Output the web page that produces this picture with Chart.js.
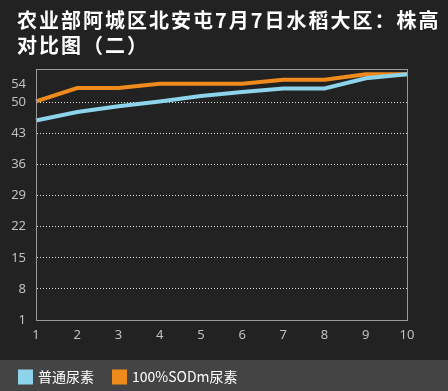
<!DOCTYPE html>
<html>
<head>
<meta charset="utf-8">
<script src="https://cdn.jsdelivr.net/npm/chart.js@4/dist/chart.umd.min.js"></script>
<style>
  html, body { margin: 0; padding: 0; background: #222; }
  #wrap { position: relative; width: 448px; height: 391px; overflow: hidden; }
  #title {
    position: absolute; left: 17px; top: 7px; width: 430px;
    color: #fff; font: bold 20px "Noto Sans CJK SC", sans-serif;
    line-height: 25px; letter-spacing: 2px; white-space: nowrap;
  }
  canvas { position: absolute; left: 0; top: 0; }
</style>
</head>
<body>
<div id="wrap">
  <canvas id="c" width="448" height="391"></canvas>
  <div id="title">农业部阿城区北安屯7月7日水稻大区：株高<br>对比图（二）</div>
</div>
<script>
/* ---------- data ---------- */
const categories = ['1', '2', '3', '4', '5', '6', '7', '8', '9', '10'];
const seriesNames = ['普通尿素', '100%SODm尿素'];
const normalUrea = [45.9, 47.8, 49.1, 50.2, 51.4, 52.3, 53.1, 53.1, 55.4, 56.3];
const sodmUrea   = [50.2, 53.2, 53.2, 54.2, 54.2, 54.2, 55.1, 55.1, 56.3, 56.3];
const yTicks     = [1, 8, 15, 22, 29, 36, 43, 50, 54];
const yMin = 1, yMax = 57.5;

/* ---------- colours ---------- */
const COLORS = {
  bg     : '#222222',
  band   : '#444444',
  blue   : '#8dd3ec',
  orange : '#ef8b1d',
  grid   : '#e0e0e0',
  frame  : '#9a9a9a',
  tick   : '#c0c0c0'
};

/* ---------- background, legend band & frame ---------- */
const paint = {
  id: 'paint',
  beforeDraw (chart) {
    const { ctx, width, height, legend } = chart;
    ctx.save();
    ctx.fillStyle = COLORS.bg;
    ctx.fillRect(0, 0, width, height);
    const top = legend.top + legend.options.labels.padding - 10;
    ctx.fillStyle = COLORS.band;
    ctx.fillRect(0, top, width, height - top);
    ctx.restore();
  },
  afterDatasetsDraw (chart) {
    const { ctx, chartArea: a } = chart;
    ctx.save();
    ctx.strokeStyle = COLORS.frame;
    ctx.lineWidth = 1;
    ctx.strokeRect(Math.round(a.left) + 0.5, Math.round(a.top) + 0.5,
                   Math.round(a.right - a.left), Math.round(a.bottom - a.top));
    ctx.restore();
  }
};

const hideGrid = c => c.tick && (c.tick.value === yMin || c.tick.value === 54);

new Chart(document.getElementById('c'), {
  type: 'line',
  data: {
    labels: categories,
    datasets: [
      { label: seriesNames[0], data: normalUrea, borderColor: COLORS.blue,
        backgroundColor: COLORS.blue, borderWidth: 4, pointRadius: 0, tension: 0 },
      { label: seriesNames[1], data: sodmUrea, borderColor: COLORS.orange,
        backgroundColor: COLORS.orange, borderWidth: 4, pointRadius: 0, tension: 0 }
    ]
  },
  options: {
    responsive: false,
    animation: false,
    layout: { padding: { left: 0, right: 41, top: 69, bottom: -3 } },
    plugins: {
      title: { display: false },
      tooltip: { enabled: false },
      legend: {
        position: 'bottom',
        align: 'start',
        labels: {
          color: '#ffffff',
          font: { family: '"Noto Sans CJK SC", sans-serif', size: 14 },
          boxWidth: 11, boxHeight: 11, padding: 20
        }
      }
    },
    scales: {
      x: {
        offset: false,
        grid: { display: false, drawTicks: false },
        border: { display: false },
        ticks: { color: COLORS.tick, padding: 7, maxRotation: 0, autoSkip: false,
                 font: { family: '"Noto Sans", sans-serif', size: 13 } },
        afterFit: s => { s.height = 30; }
      },
      y: {
        min: yMin, max: yMax,
        afterBuildTicks: s => { s.ticks = yTicks.map(v => ({ value: v })); },
        afterFit: s => { s.width = 36; },
        grid: {
          drawTicks: false,
          color: c => hideGrid(c) ? 'rgba(0,0,0,0)' : COLORS.grid,
          lineWidth: 1,
          borderDash: [1, 2]
        },
        border: { display: true, color: 'rgba(0,0,0,0)', dash: [1, 2] },
        ticks: { color: COLORS.tick, padding: 10,
                 font: { family: '"Noto Sans", sans-serif', size: 13 } }
      }
    }
  },
  plugins: [paint]
});
</script>
</body>
</html>
